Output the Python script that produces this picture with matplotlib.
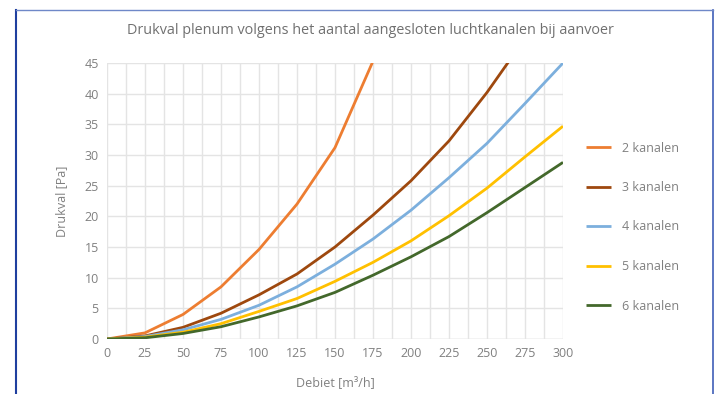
import matplotlib
matplotlib.use("Agg")
import matplotlib.pyplot as plt
from matplotlib.lines import Line2D
from matplotlib.ticker import MultipleLocator

plt.rcParams['font.family'] = ['Open Sans', 'DejaVu Sans']

debiet = [0, 25, 50, 75, 100, 125, 150, 175, 200, 225, 250, 275, 300]

kanalen_2 = [0, 1.0, 4.0, 8.5, 14.6, 22.0, 31.2, 45.3]
kanalen_3 = [0, 0.5, 1.9, 4.2, 7.2, 10.6, 15.0, 20.2, 25.8, 32.3, 40.2, 49.0]
kanalen_4 = [0, 0.4, 1.5, 3.2, 5.5, 8.5, 12.2, 16.3, 21.0, 26.3, 31.9, 38.4, 45.0]
kanalen_5 = [0, 0.3, 1.1, 2.5, 4.5, 6.6, 9.4, 12.5, 16.0, 20.1, 24.6, 29.7, 34.7]
kanalen_6 = [0, 0.2, 0.9, 2.0, 3.6, 5.4, 7.6, 10.4, 13.4, 16.7, 20.6, 24.7, 28.8]

series = [
    ("2 kanalen", kanalen_2, "#ED7D31"),
    ("3 kanalen", kanalen_3, "#9E480E"),
    ("4 kanalen", kanalen_4, "#7CAFDD"),
    ("5 kanalen", kanalen_5, "#FFC000"),
    ("6 kanalen", kanalen_6, "#43682B"),
]

text_grey = "#808080"

fig = plt.figure(figsize=(7.18, 3.94), dpi=100)
ax = fig.add_axes([107 / 718, 1 - 339 / 394, 456 / 718, 276 / 394])

for label, values, color in series:
    ax.plot(debiet[:len(values)], values, color=color, lw=2.0, label=label,
            solid_capstyle="butt", zorder=3)

ax.set_xlim(0, 300)
ax.set_ylim(0, 45)
ax.xaxis.set_major_locator(MultipleLocator(25))
ax.xaxis.set_minor_locator(MultipleLocator(12.5))
ax.yaxis.set_major_locator(MultipleLocator(5))
ax.grid(which="both", axis="x", color="#e4e4e4", lw=1.0, zorder=0)
ax.grid(which="major", axis="y", color="#e4e4e4", lw=1.0, zorder=0)
ax.tick_params(which="both", length=0, labelsize=9, colors=text_grey, pad=6)
for s in ax.spines.values():
    s.set_visible(False)
ax.axhline(0, color="#d9d9d9", lw=1.0, zorder=1)

ax.set_xlabel("Debiet [m³/h]", fontsize=9, color=text_grey, labelpad=11)
ax.set_ylabel("Drukval [Pa]", fontsize=9, color=text_grey, labelpad=12)

fig.text(370 / 718, 1 - 31 / 394,
         "Drukval plenum volgens het aantal aangesloten luchtkanalen bij aanvoer",
         ha="center", va="center", fontsize=10.4, color="#707070")

leg = fig.legend(loc="center left", bbox_to_anchor=(581 / 718, 1 - 227 / 394),
                 frameon=False, fontsize=9, labelcolor=text_grey,
                 handlelength=2.0, handletextpad=0.85, labelspacing=2.12,
                 borderaxespad=0)

# frame around the chart area
border = "#3f5fb8"
fig.add_artist(Line2D([16 / 718, 16 / 718], [0, 1 - 10 / 394], color="#1f3f9f",
                      lw=1.5, transform=fig.transFigure))
fig.add_artist(Line2D([713 / 718, 713 / 718], [0, 1 - 10 / 394], color=border,
                      lw=1.2, transform=fig.transFigure))
fig.add_artist(Line2D([16 / 718, 713 / 718], [1 - 10 / 394, 1 - 10 / 394],
                      color="#6f88c8", lw=1.0, transform=fig.transFigure))

fig.savefig("out.png", dpi=100)
